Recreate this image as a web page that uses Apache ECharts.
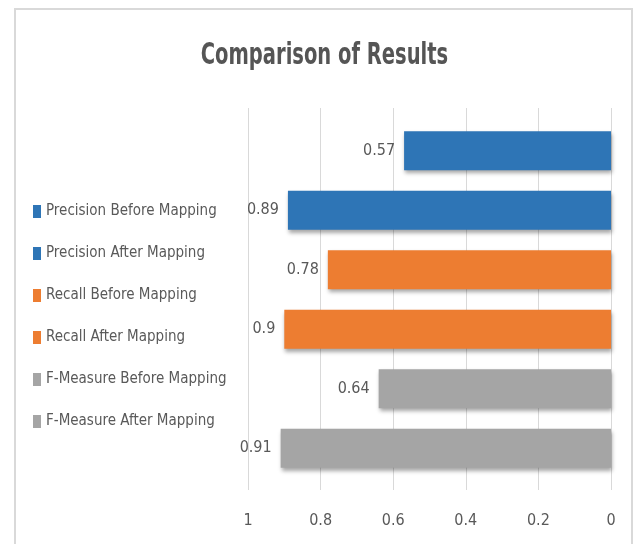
<!DOCTYPE html>
<html>
<head>
<meta charset="utf-8">
<title>Comparison of Results</title>
<script src="https://cdn.jsdelivr.net/npm/echarts@6/dist/echarts.min.js"></script>
<style>
  html, body { margin: 0; padding: 0; background: #ffffff; }
  #chart { width: 635px; height: 544px; }
</style>
</head>
<body>
<div id="chart"></div>
<script>
// Series names (one bar per metric) and their scores
const categories = [
  'Precision Before Mapping',
  'Precision After Mapping',
  'Recall Before Mapping',
  'Recall After Mapping',
  'F-Measure Before Mapping',
  'F-Measure After Mapping'
];
const values = [0.57, 0.89, 0.78, 0.9, 0.64, 0.91];
const barColors = ['#2E75B6', '#2E75B6', '#ED7D31', '#ED7D31', '#A5A5A5', '#A5A5A5'];
const tickValues = [0, 0.2, 0.4, 0.6, 0.8, 1];
const chartTitle = 'Comparison of Results';

const FONT = '"DejaVu Sans Condensed", "Liberation Sans Narrow", "Open Sans", sans-serif';
const TEXT = '#595959';

const chart = echarts.init(document.getElementById('chart'), null, { renderer: 'canvas' });

// one series per metric so each gets its own legend entry; bars overlap in their own row
const series = categories.map(function (name, i) {
  return {
    name: name,
    type: 'bar',
    xAxisIndex: 0,
    yAxisIndex: 0,
    barWidth: 39,
    barGap: '-100%',
    data: categories.map(function (c, j) { return j === i ? values[i] : null; }),
    itemStyle: {
      color: barColors[i],
      shadowColor: 'rgba(0,0,0,0.35)',
      shadowBlur: 4,
      shadowOffsetX: 1,
      shadowOffsetY: 3
    },
    label: {
      show: true,
      position: 'left',
      distance: 9,
      color: TEXT,
      fontFamily: FONT,
      fontSize: 16,
      formatter: function (p) { return p.value; }
    }
  };
});

chart.setOption({
  animation: false,
  backgroundColor: '#ffffff',
  legend: {
    orient: 'vertical',
    left: 28,
    top: 198,
    itemWidth: 8,
    itemHeight: 13,
    itemGap: 25,
    icon: 'rect',
    data: categories,
    textStyle: { color: TEXT, fontFamily: FONT, fontSize: 15, lineHeight: 17 }
  },
  grid: [
    { left: 248, right: 24, top: 121, height: 357 },
    { left: 248, right: 24, top: 108, height: 382 }
  ],
  xAxis: [
    { type: 'value', gridIndex: 0, min: 0, max: 1, inverse: true, show: false },
    {
      type: 'value', gridIndex: 1, min: 0, max: 1, interval: 0.2, inverse: true,
      axisLine: { show: false },
      axisTick: { show: false },
      splitLine: { show: true, lineStyle: { color: '#d9d9d9', width: 1 } },
      axisLabel: {
        margin: 23,
        color: TEXT,
        fontFamily: FONT,
        fontSize: 16,
        formatter: function (v) {
          const t = tickValues.find(function (k) { return Math.abs(k - v) < 1e-9; });
          return t === undefined ? '' : String(t);
        }
      }
    }
  ],
  yAxis: [
    { type: 'category', gridIndex: 0, data: categories, inverse: true, show: false },
    { type: 'value', gridIndex: 1, show: false }
  ],
  graphic: [
    {
      // chart frame (open at the bottom edge of the page)
      type: 'polyline',
      silent: true,
      shape: { points: [[15, 560], [15, 9], [632, 9], [632, 560]] },
      style: { stroke: '#d9d9d9', lineWidth: 2, fill: null }
    },
    {
      // tall, narrow bold heading
      type: 'text',
      silent: true,
      x: 324.5,
      y: 56,
      scaleX: 0.7,
      style: {
        text: chartTitle,
        fill: '#555555',
        fontFamily: FONT,
        fontWeight: 'bold',
        fontSize: 31,
        align: 'center',
        verticalAlign: 'middle'
      }
    }
  ],
  series: series
});
</script>
</body>
</html>
